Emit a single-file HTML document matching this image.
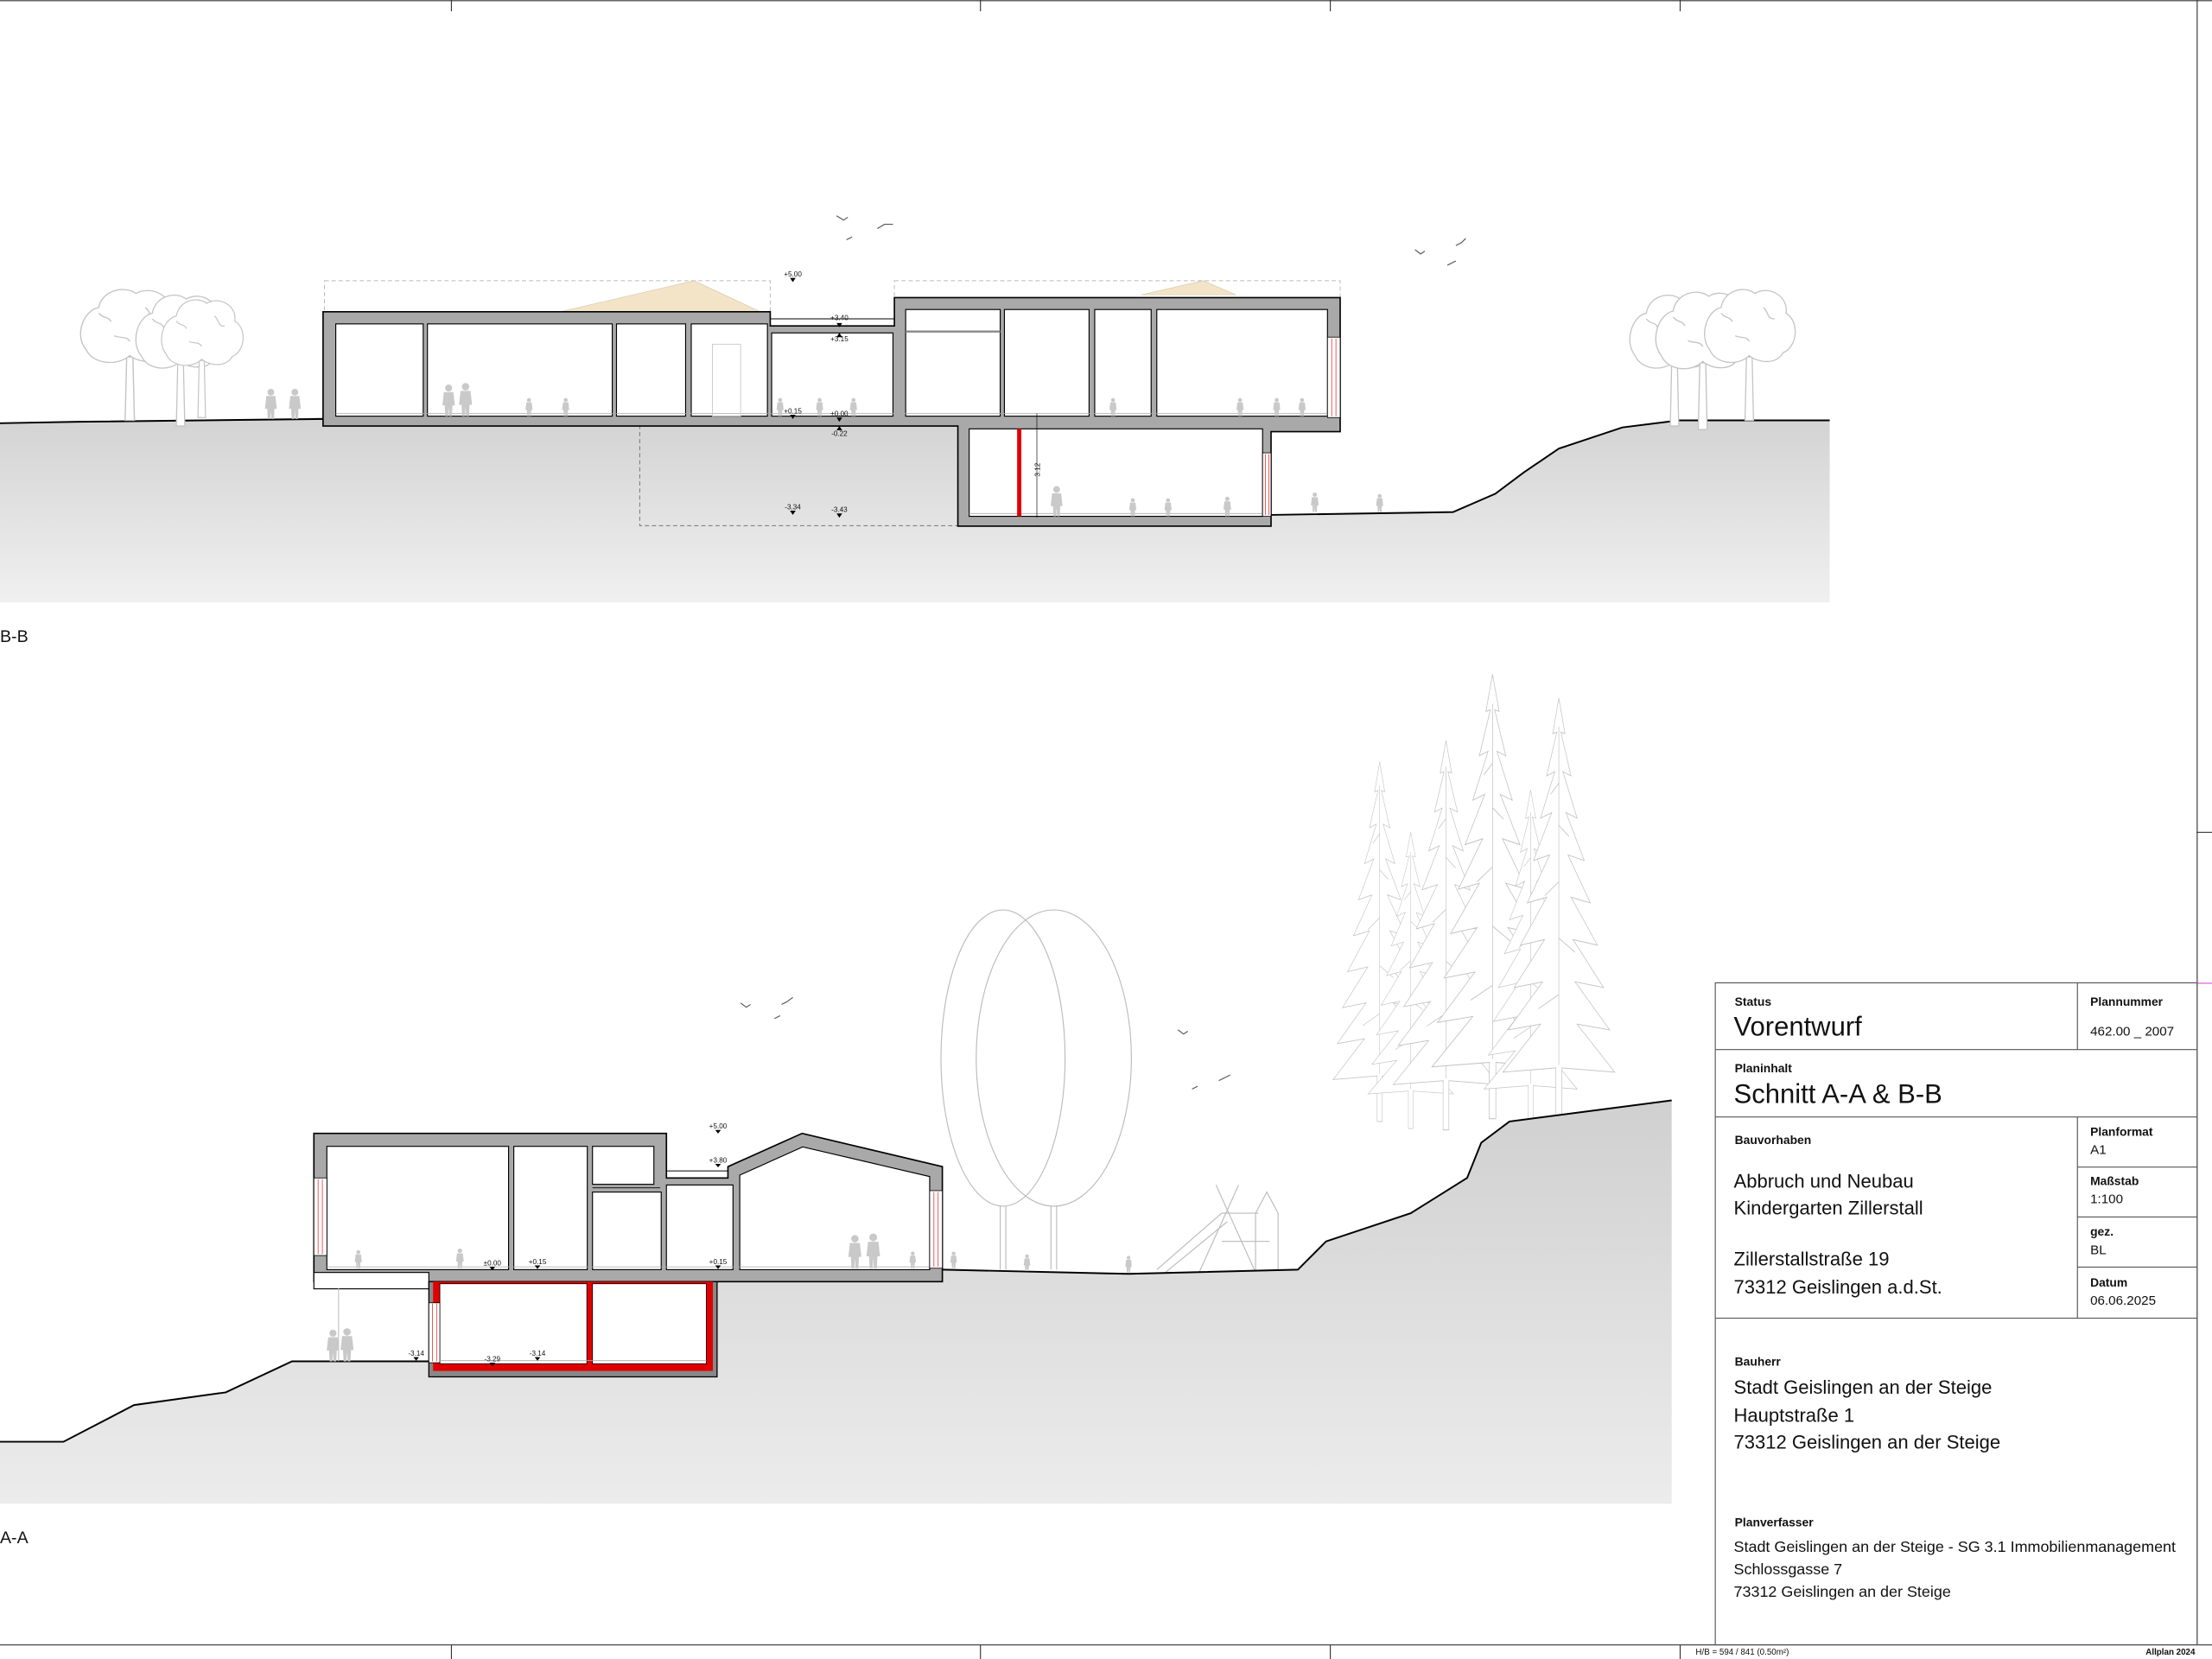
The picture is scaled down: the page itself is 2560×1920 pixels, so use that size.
<!DOCTYPE html>
<html><head><meta charset="utf-8"><style>
html,body{margin:0;padding:0;background:#fff;}
svg{display:block;}
text{font-family:"Liberation Sans",sans-serif;fill:#111;}
</style></head><body>
<svg width="2560" height="1920" viewBox="0 0 1568 1176" xmlns="http://www.w3.org/2000/svg">
<defs>
<linearGradient id="g1" x1="0" y1="0" x2="0" y2="1"><stop offset="0" stop-color="#d3d3d3"/><stop offset="1" stop-color="#f0f0f0"/></linearGradient>
<linearGradient id="g2" x1="0" y1="0" x2="0" y2="1"><stop offset="0" stop-color="#d0d0d0"/><stop offset="1" stop-color="#ececec"/></linearGradient>
<g id="ad" fill="#c9c9c9"><circle cx="0" cy="-19" r="2.4"/><path d="M-3.2,-16.3 h6.4 l1,9 h-1.6 l-0.4,7.3 h-1.8 l-0.4,-6 l-0.4,6 h-1.8 l-0.4,-7.3 h-1.6 z"/></g>
<g id="fir" fill="#fff" stroke="#c4c4c4" stroke-width="0.6"><path d="M0,0 L6,25 L2,24 L12,55 L4,52 L18,85 L7,81 L25,115 L9,111 L31,145 L12,141 L38,175 L14,171 L44,205 L16,201 L50,235 L18,231 L55,265 L3,262 L3,300 L-3,300 L-3,262 L-55,265 L-18,231 L-50,235 L-16,201 L-44,205 L-14,171 L-38,175 L-12,141 L-31,145 L-9,111 L-25,115 L-7,81 L-18,85 L-4,52 L-12,55 L-2,24 L-6,25 Z"/><path d="M0,20 L0,260 M0,60 l-8,8 M0,90 l10,8 M0,130 l-14,10 M0,170 l16,10 M0,210 l-20,10" fill="none"/></g>
<g id="tree" fill="#fff" stroke="#c4c4c4" stroke-width="0.8"><path d="M-3,90 L-2,45 L2,45 L3,90 Z"/><path d="M-28,40 C-36,30 -30,12 -20,10 C-18,-2 -4,-6 4,0 C14,-6 28,2 26,14 C36,20 34,38 24,42 C18,52 4,48 0,44 C-8,52 -24,50 -28,40 Z"/><path d="M-20,14 c3,4 6,2 8,6 M10,10 c4,3 2,8 8,8 M-10,30 c4,2 8,0 10,4" fill="none"/></g>
</defs>

<g stroke="#333" stroke-width="0.7" fill="none">
<line x1="0" y1="0.5" x2="1568" y2="0.5"/>
<line x1="320" y1="0" x2="320" y2="8"/><line x1="695" y1="0" x2="695" y2="8"/><line x1="943" y1="0" x2="943" y2="8"/><line x1="1191" y1="0" x2="1191" y2="8"/>
<line x1="1557.5" y1="0" x2="1557.5" y2="1166"/>
<line x1="0" y1="1166" x2="1568" y2="1166"/>
<line x1="320" y1="1166" x2="320" y2="1176"/><line x1="695" y1="1166" x2="695" y2="1176"/><line x1="943" y1="1166" x2="943" y2="1176"/><line x1="1191" y1="1166" x2="1191" y2="1176"/>
<line x1="1557" y1="590" x2="1568" y2="590"/>
</g>
<line x1="1557" y1="697" x2="1568" y2="697" stroke="#e070e0" stroke-width="0.8"/>

<!-- B-B -->
<path d="M0,300 L55,299 L230,296 L230,302 L679,302 L679,373 L901,373 L901,365 L1030,363 L1060,350 L1080,335 L1105,318 L1150,303 L1190,298 L1297,298 L1297,427 L0,427 Z" fill="url(#g1)"/>
<polyline points="0,300 55,299 230,297" fill="none" stroke="#000" stroke-width="1.2"/>
<polyline points="901,365 1030,363 1060,350 1080,335 1105,318 1150,303 1190,298 1297,298" fill="none" stroke="#000" stroke-width="1.2"/>
<rect x="453.5" y="302" width="225.5" height="70.6" fill="none" stroke="#777" stroke-width="0.6" stroke-dasharray="3,2"/>
<rect x="230" y="199" width="316" height="22" fill="none" stroke="#bbb" stroke-width="0.6" stroke-dasharray="3,2"/>
<rect x="634" y="199" width="316" height="12" fill="none" stroke="#bbb" stroke-width="0.6" stroke-dasharray="3,2"/>
<polygon points="397,221 492,199 539,221" fill="#f3e4c8" stroke="#d8c8a8" stroke-width="0.4"/>
<polygon points="809,209 853,199 876,209" fill="#f3e4c8" stroke="#d8c8a8" stroke-width="0.4"/>
<polygon points="229,221 546,221 546,231 634,231 634,211 950,211 950,306 901,306 901,373 679,373 679,302 229,302" fill="#a9a9a9" stroke="#000" stroke-width="1"/>
<g fill="#fff" stroke="#000" stroke-width="0.7">
<rect x="238" y="229.6" width="62" height="65.4"/><rect x="303" y="229.6" width="131" height="65.4"/><rect x="437" y="229.6" width="49" height="65.4"/><rect x="490" y="229.6" width="54" height="65.4"/>
<rect x="547" y="236" width="86" height="59"/>
<rect x="642" y="219.4" width="67" height="75.6"/><rect x="712" y="219.4" width="60" height="75.6"/><rect x="776" y="219.4" width="40" height="75.6"/><rect x="820" y="219.4" width="121" height="75.6"/>
<rect x="687" y="304" width="208" height="62"/>
</g>
<line x1="642" y1="235" x2="709" y2="235" stroke="#888" stroke-width="1.5"/>
<line x1="546" y1="226" x2="634" y2="226" stroke="#000" stroke-width="0.6"/>
<g stroke="#aaa" stroke-width="0.5"><line x1="238" y1="293" x2="941" y2="293"/><line x1="687" y1="364" x2="895" y2="364"/></g>
<rect x="505" y="244" width="20" height="51" fill="none" stroke="#ccc" stroke-width="0.6"/>
<rect x="941" y="239" width="9" height="57" fill="#fff" stroke="#000" stroke-width="0.5"/>
<line x1="944" y1="240" x2="944" y2="295" stroke="#e33" stroke-width="0.5"/><line x1="947" y1="240" x2="947" y2="295" stroke="#e33" stroke-width="0.5"/>
<rect x="895" y="321" width="6" height="45" fill="#fff" stroke="#000" stroke-width="0.5"/>
<line x1="897" y1="322" x2="897" y2="365" stroke="#e33" stroke-width="0.5"/><line x1="899.5" y1="322" x2="899.5" y2="365" stroke="#e33" stroke-width="0.5"/>
<rect x="721" y="304" width="3" height="62" fill="#e00000"/>
<line x1="735" y1="293" x2="735" y2="367" stroke="#000" stroke-width="0.4"/>
<g font-size="5" text-anchor="middle">
<text x="562" y="196">+5.00</text><text x="595" y="227">+3.40</text><text x="595" y="242">+3.15</text>
<text x="562" y="293">+0.15</text><text x="595" y="295">±0.00</text><text x="595" y="309">-0.22</text>
<text x="562" y="361">-3.34</text><text x="595" y="363">-3.43</text>
<text transform="translate(737,333) rotate(-90)">3.12</text>
</g>
<g fill="#000"><path d="M560,197 l2,3 l2,-3z"/><path d="M593,229 l2,3 l2,-3z"/><path d="M593,239 l2,-3 l2,3z"/><path d="M560,294 l2,3 l2,-3z"/><path d="M593,296 l2,3 l2,-3z"/><path d="M593,305 l2,-3 l2,3z"/><path d="M560,362 l2,3 l2,-3z"/><path d="M593,364 l2,3 l2,-3z"/></g>
<use href="#ad" x="192" y="297"/><use href="#ad" x="209" y="297"/>
<use href="#ad" x="0" y="0" transform="translate(318,295) scale(1.05)"/><use href="#ad" x="0" y="0" transform="translate(330,295) scale(1.1)"/>
<use href="#ad" x="0" y="0" transform="translate(375,295) scale(0.6)"/><use href="#ad" x="0" y="0" transform="translate(401,295) scale(0.6)"/>
<use href="#ad" x="0" y="0" transform="translate(553,295) scale(0.6)"/><use href="#ad" x="0" y="0" transform="translate(581,295) scale(0.6)"/><use href="#ad" x="0" y="0" transform="translate(605,295) scale(0.6)"/>
<use href="#ad" x="0" y="0" transform="translate(789,295) scale(0.6)"/><use href="#ad" x="0" y="0" transform="translate(879,295) scale(0.6)"/><use href="#ad" x="0" y="0" transform="translate(905,295) scale(0.6)"/><use href="#ad" x="0" y="0" transform="translate(923,295) scale(0.6)"/>
<use href="#ad" x="749" y="366"/>
<use href="#ad" x="0" y="0" transform="translate(803,366) scale(0.6)"/><use href="#ad" x="0" y="0" transform="translate(828,366) scale(0.6)"/><use href="#ad" x="0" y="0" transform="translate(870,366) scale(0.65)"/>
<use href="#ad" x="0" y="0" transform="translate(932,363) scale(0.65)"/><use href="#ad" x="0" y="0" transform="translate(978,363) scale(0.6)"/>
<use href="#tree" x="0" y="0" transform="translate(92,208) scale(1.1,1)"/>
<use href="#tree" x="128" y="212"/><use href="#tree" x="0" y="0" transform="translate(143,215) scale(0.9)"/>
<use href="#tree" x="1187" y="212"/><use href="#tree" x="0" y="0" transform="translate(1207,210) scale(1.05)"/><use href="#tree" x="1240" y="208"/>
<g fill="none" stroke="#555" stroke-width="0.7">
<path d="M593,153 l5,3 l3,-2"/><path d="M622,162 l5,-3 l6,0"/><path d="M600,170 l4,-2"/>
<path d="M1003,177 l4,3 l3,-2"/><path d="M1032,174 l4,-2 l3,-3"/><path d="M1026,188 l4,-2 l2,-1"/>
<path d="M525,711 l4,3 l3,-2"/><path d="M554,712 l4,-2 l4,-3"/><path d="M549,722 l4,-2"/>
<path d="M835,730 l4,3 l3,-2"/><path d="M864,766 l4,-2 l4,-2"/><path d="M845,772 l4,-2"/>
</g>
<text x="0" y="455" font-size="12">B-B</text>

<!-- A-A -->
<use href="#fir" x="0" y="0" transform="translate(978,540) scale(0.6,0.85)"/>
<use href="#fir" x="0" y="0" transform="translate(1000,590) scale(0.55,0.7)"/>
<use href="#fir" x="0" y="0" transform="translate(1025,525) scale(0.68,0.92)"/>
<use href="#fir" x="0" y="0" transform="translate(1058,478) scale(0.78,1.05)"/>
<use href="#fir" x="0" y="0" transform="translate(1085,560) scale(0.6,0.8)"/>
<use href="#fir" x="0" y="0" transform="translate(1105,495) scale(0.72,1.0)"/>
<g fill="none" stroke="#bbb" stroke-width="0.7">
<ellipse cx="711" cy="750" rx="44" ry="105"/><ellipse cx="747" cy="750" rx="55" ry="105"/>
<line x1="709" y1="855" x2="709" y2="900"/><line x1="713" y1="855" x2="713" y2="900"/><line x1="745" y1="855" x2="745" y2="900"/><line x1="749" y1="855" x2="749" y2="900"/>
<path d="M862,840 L890,902 M878,840 L850,902 M866,860 L892,860 M866,880 L900,880 M890,860 L890,902 M906,860 L906,902 M890,860 L898,845 L906,860 M866,860 L820,900 M870,866 L826,902"/>
</g>
<path d="M0,1022 L45,1022 L95,996 L160,987 L207,965 L304,965 L304,976 L508,976 L508,909 L668,909 L668,900 L800,903 L920,900 L940,880 L1000,860 L1040,835 L1050,810 L1070,795 L1185,780 L1185,1066 L0,1066 Z" fill="url(#g2)"/>
<polyline points="0,1022 45,1022 95,996 160,987 207,965 304,965" fill="none" stroke="#000" stroke-width="1.2"/>
<polyline points="668,900 800,903 920,900 940,880 1000,860 1040,835 1050,810 1070,795 1185,780" fill="none" stroke="#000" stroke-width="1.2"/>
<polygon points="222.5,803.4 472.4,803.4 472.4,835 516,835 516,827 568.6,803.4 668,827 668,908.5 222.5,908.5" fill="#a9a9a9" stroke="#000" stroke-width="1"/>
<g fill="#fff" stroke="#000" stroke-width="0.7">
<rect x="231.7" y="812.6" width="128.8" height="87.4"/><rect x="364.2" y="812.6" width="52.1" height="87.4"/>
<rect x="420" y="812.6" width="43.5" height="26.9"/><rect x="420" y="845" width="48.7" height="55"/>
<rect x="472.4" y="840" width="47.2" height="60"/>
<polygon points="524.4,900 524.4,833 569,813 659,834 659,900"/>
<rect x="222.5" y="902" width="81.5" height="11.6"/>
</g>
<line x1="420" y1="842" x2="468" y2="842" stroke="#000" stroke-width="0.5"/>
<line x1="472.4" y1="830" x2="516" y2="830" stroke="#000" stroke-width="0.6"/>
<line x1="231.7" y1="898" x2="659" y2="898" stroke="#aaa" stroke-width="0.5"/>
<rect x="222.5" y="835" width="9.2" height="55" fill="#fff" stroke="#000" stroke-width="0.5"/>
<line x1="225.5" y1="836" x2="225.5" y2="889" stroke="#e33" stroke-width="0.5"/><line x1="228.5" y1="836" x2="228.5" y2="889" stroke="#e33" stroke-width="0.5"/>
<rect x="659" y="844" width="9" height="55" fill="#fff" stroke="#000" stroke-width="0.5"/>
<line x1="662" y1="845" x2="662" y2="898" stroke="#e33" stroke-width="0.5"/><line x1="665" y1="845" x2="665" y2="898" stroke="#e33" stroke-width="0.5"/>
<line x1="240" y1="913" x2="240" y2="965" stroke="#bbb" stroke-width="0.6"/>
<rect x="304" y="908.5" width="204.3" height="67.5" fill="#888" stroke="#000" stroke-width="0.8"/>
<rect x="307" y="908.5" width="198.3" height="63.3" fill="#e00000"/>
<rect x="311.8" y="910" width="104.2" height="56.7" fill="#fff" stroke="#000" stroke-width="0.5"/>
<rect x="420" y="910" width="80.7" height="56.7" fill="#fff" stroke="#000" stroke-width="0.5"/>
<rect x="304" y="923.5" width="7.8" height="42.5" fill="#fff" stroke="#000" stroke-width="0.5"/>
<line x1="306.5" y1="924" x2="306.5" y2="965" stroke="#e33" stroke-width="0.5"/><line x1="309.5" y1="924" x2="309.5" y2="965" stroke="#e33" stroke-width="0.5"/>
<line x1="311.8" y1="964.5" x2="500.7" y2="964.5" stroke="#aaa" stroke-width="0.5"/>
<g font-size="5" text-anchor="middle">
<text x="509" y="800">+5.00</text><text x="509" y="824">+3.80</text>
<text x="349" y="897">±0.00</text><text x="381" y="896">+0.15</text><text x="509" y="896">+0.15</text>
<text x="295" y="961">-3.14</text><text x="349" y="965">-3.29</text><text x="381" y="961">-3.14</text>
</g>
<g fill="#000"><path d="M507,801 l2,2.5 l2,-2.5z"/><path d="M507,825 l2,2.5 l2,-2.5z"/><path d="M347,898 l2,2.5 l2,-2.5z"/><path d="M379,897 l2,2.5 l2,-2.5z"/><path d="M507,897 l2,2.5 l2,-2.5z"/><path d="M293,962 l2,2.5 l2,-2.5z"/><path d="M347,966 l2,2.5 l2,-2.5z"/><path d="M379,962 l2,2.5 l2,-2.5z"/></g>
<use href="#ad" x="0" y="0" transform="translate(254,899) scale(0.6)"/><use href="#ad" x="0" y="0" transform="translate(326,899) scale(0.65)"/>
<use href="#ad" x="0" y="0" transform="translate(606,899) scale(1.1)"/><use href="#ad" x="0" y="0" transform="translate(619,899) scale(1.15)"/><use href="#ad" x="0" y="0" transform="translate(647,899) scale(0.55)"/>
<use href="#ad" x="0" y="0" transform="translate(676,899) scale(0.55)"/><use href="#ad" x="0" y="0" transform="translate(728,901) scale(0.55)"/><use href="#ad" x="0" y="0" transform="translate(800,902) scale(0.55)"/>
<use href="#ad" x="0" y="0" transform="translate(236,965) scale(1.05)"/><use href="#ad" x="0" y="0" transform="translate(246,965) scale(1.1)"/>
<text x="0" y="1094" font-size="12">A-A</text>

<!-- title block -->
<g fill="none" stroke="#555" stroke-width="0.7">
<rect x="1215.9" y="696.7" width="341.6" height="469.2"/>
<line x1="1215.9" y1="744" x2="1557.5" y2="744"/><line x1="1215.9" y1="791.8" x2="1557.5" y2="791.8"/><line x1="1215.9" y1="934.4" x2="1557.5" y2="934.4"/>
<line x1="1472.6" y1="696.7" x2="1472.6" y2="744"/><line x1="1472.6" y1="791.8" x2="1472.6" y2="934.4"/>
<line x1="1472.6" y1="827.3" x2="1557.5" y2="827.3"/><line x1="1472.6" y1="862.7" x2="1557.5" y2="862.7"/><line x1="1472.6" y1="898.2" x2="1557.5" y2="898.2"/>
</g>
<g font-size="8.5" font-weight="bold">
<text x="1229.7" y="713">Status</text>
<text x="1481.7" y="713">Plannummer</text>
<text x="1229.7" y="760">Planinhalt</text>
<text x="1229.7" y="811">Bauvorhaben</text>
<text x="1481.7" y="805">Planformat</text>
<text x="1481.7" y="840">Maßstab</text>
<text x="1481.7" y="876">gez.</text>
<text x="1481.7" y="912">Datum</text>
<text x="1229.7" y="968">Bauherr</text>
<text x="1229.7" y="1082">Planverfasser</text>
</g>
<text x="1229" y="734" font-size="19">Vorentwurf</text>
<text x="1229" y="782" font-size="19">Schnitt A-A &amp; B-B</text>
<g font-size="9.3"><text x="1481.7" y="734">462.00 _ 2007</text><text x="1481.7" y="818">A1</text><text x="1481.7" y="853">1:100</text><text x="1481.7" y="889">BL</text><text x="1481.7" y="925">06.06.2025</text></g>
<g font-size="13.5"><text x="1229" y="842">Abbruch und Neubau</text><text x="1229" y="861">Kindergarten Zillerstall</text><text x="1229" y="897">Zillerstallstraße 19</text><text x="1229" y="917">73312 Geislingen a.d.St.</text>
<text x="1229" y="988">Stadt Geislingen an der Steige</text><text x="1229" y="1008">Hauptstraße 1</text><text x="1229" y="1027">73312 Geislingen an der Steige</text></g>
<g font-size="11"><text x="1229" y="1100">Stadt Geislingen an der Steige - SG 3.1 Immobilienmanagement</text><text x="1229" y="1116">Schlossgasse 7</text><text x="1229" y="1132">73312 Geislingen an der Steige</text></g>
<text x="1202" y="1173" font-size="6">H/B = 594 / 841 (0.50m²)</text>
<text x="1556" y="1173" font-size="6" text-anchor="end" font-weight="bold">Allplan 2024</text>
</svg>
</body></html>
